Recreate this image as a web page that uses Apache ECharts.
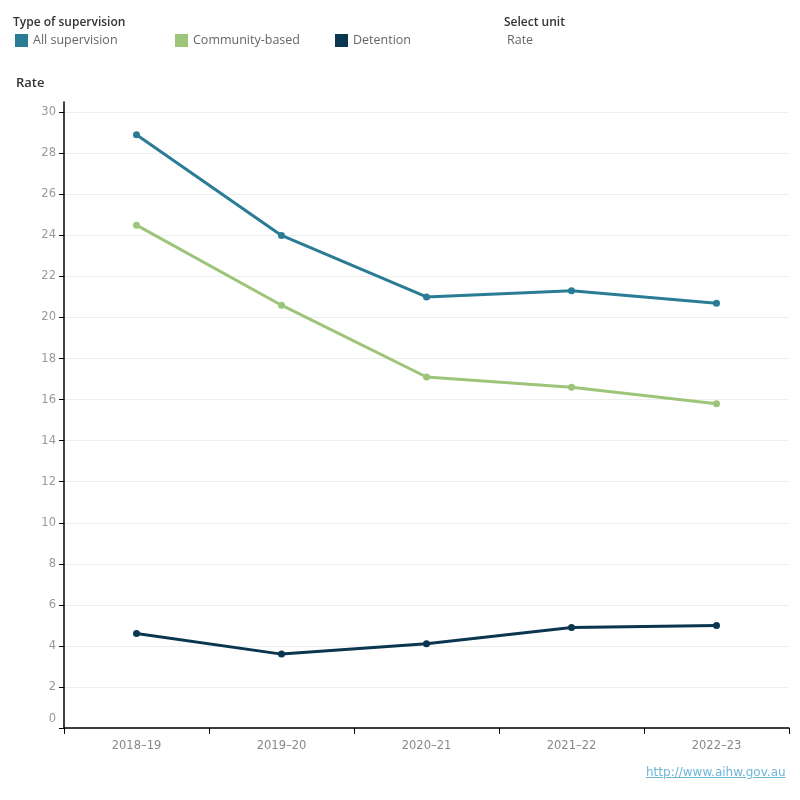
<!DOCTYPE html>
<html>
<head>
<meta charset="utf-8">
<script src="https://cdn.jsdelivr.net/npm/echarts@6/dist/echarts.min.js"></script>
<style>
  html, body { margin: 0; padding: 0; background: #fff; }
  #chart { width: 800px; height: 800px; }
  #src {
    position: absolute; left: 646px; top: 765px;
    font-family: "DejaVu Sans", sans-serif; font-size: 12px;
    color: #6db7d8; text-decoration: underline;
  }
</style>
</head>
<body>
<div id="chart"></div>
<a id="src" href="http://www.aihw.gov.au">http://www.aihw.gov.au</a>
<script>
const years = ["2018–19", "2019–20", "2020–21", "2021–22", "2022–23"];
const allSupervision = [28.9, 24.0, 21.0, 21.3, 20.7];
const communityBased = [24.5, 20.6, 17.1, 16.6, 15.8];
const detention = [4.6, 3.6, 4.1, 4.9, 5.0];
const yTicks = [0, 2, 4, 6, 8, 10, 12, 14, 16, 18, 20, 22, 24, 26, 28, 30];
const seriesNames = ["All supervision", "Community-based", "Detention"];

const colors = ["#297c94", "#9dc57a", "#0b3650"];

const chart = echarts.init(document.getElementById("chart"));

function lineSeries(name, values, color) {
  return {
    name: name,
    type: "line",
    data: values,
    symbol: "circle",
    symbolSize: 7,
    lineStyle: { width: 3, color: color },
    itemStyle: { color: color },
    emphasis: { disabled: true },
  };
}

// one legend per item so they sit at fixed spacing like the original
const legends = seriesNames.map((name, i) => ({
  left: 15 + i * 160, top: 34,
  icon: "rect",
  itemWidth: 13, itemHeight: 13,
  padding: 0,
  selectedMode: false,
  textStyle: { fontFamily: "Open Sans", fontSize: 12.5, color: "#666" },
  data: [name],
}));

const headText = { fontFamily: "Open Sans", fontSize: 12, fontWeight: 600, color: "#333" };

const option = {
  animation: false,
  title: [
    { text: "Type of supervision", left: 13, top: 17, padding: 0, textStyle: headText },
    { text: "Select unit", left: 504, top: 17, padding: 0, textStyle: headText },
    {
      text: "Rate", left: 507, top: 34, padding: 0,
      textStyle: { fontFamily: "Open Sans", fontSize: 12.5, fontWeight: "normal", color: "#666" },
    },
    {
      text: "Rate", left: 16, top: 77, padding: 0,
      textStyle: { fontFamily: "Open Sans", fontSize: 13, fontWeight: 600, color: "#333" },
    },
  ],
  legend: legends,
  grid: { left: 64, right: 11, top: 102, bottom: 72 },
  xAxis: {
    type: "category",
    data: years,
    boundaryGap: true,
    axisLine: { lineStyle: { color: "#000", width: 1.5 } },
    axisTick: { show: true, length: 6, lineStyle: { color: "#000" } },
    axisLabel: { fontFamily: "DejaVu Sans", fontSize: 11.5, color: "#888", margin: 12 },
    splitLine: { show: false },
  },
  yAxis: {
    type: "value",
    min: 0,
    max: 30.5,
    axisLine: { show: true, lineStyle: { color: "#000", width: 1.5 } },
    axisTick: { show: true, length: 5, lineStyle: { color: "#000" }, customValues: yTicks },
    axisLabel: {
      fontFamily: "DejaVu Sans", fontSize: 11.5, color: "#999", margin: 8,
      customValues: yTicks,
      formatter: function (v) { return v === 0 ? "{zero|0}" : String(v); },
      rich: { zero: { fontFamily: "DejaVu Sans", fontSize: 11.5, color: "#999", padding: [0, 0, 18, 0] } },
    },
    splitLine: { show: true, lineStyle: { color: "#eeeeee", width: 1 } },
  },
  series: [
    lineSeries(seriesNames[0], allSupervision, colors[0]),
    lineSeries(seriesNames[1], communityBased, colors[1]),
    lineSeries(seriesNames[2], detention, colors[2]),
  ],
};

chart.setOption(option);
</script>
</body>
</html>
